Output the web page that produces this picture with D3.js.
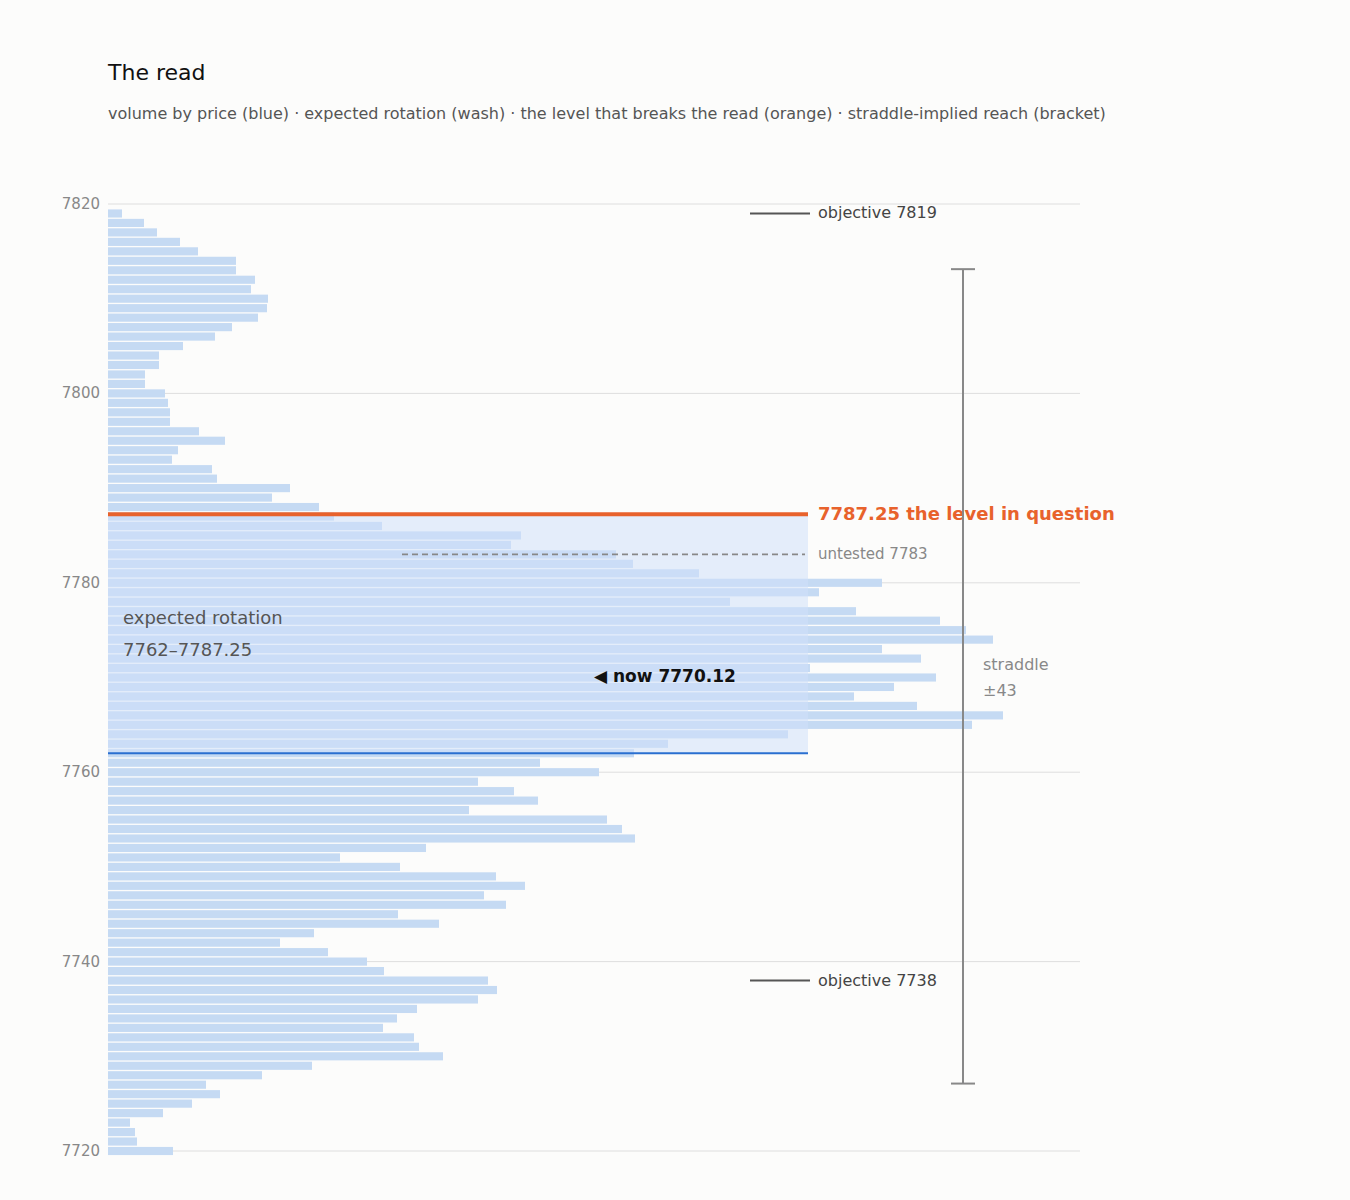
<!DOCTYPE html>
<html><head><meta charset="utf-8">
<script src="https://cdn.jsdelivr.net/npm/d3@7"></script>
<style>body{margin:0;background:#fcfcfb;font-family:"DejaVu Sans",sans-serif}</style>
</head><body><svg id="c" width="1350" height="1200"></svg>
<script>
const prices = d3.range(7819, 7719, -1);
const volumes = [14,36,49,72,90,128,128,147,143,160,159,150,124,107,75,51,51,37,37,57,
60,62,62,91,117,70,64,104,109,182,164,211,226,274,413,403,508,525,591,774,
711,622,748,832,858,885,774,813,702,828,786,746,809,895,864,680,560,526,432,491,
370,406,430,361,499,514,527,318,232,292,388,417,376,398,290,331,206,172,220,259,
276,380,389,370,309,289,275,306,311,335,204,154,98,112,84,55,22,27,29,65];
const yTicks = [7720,7740,7760,7780,7800,7820];
const breakLevel = 7787.25, rotLow = 7762, untested = 7783, nowPrice = 7770.12, straddle = 43;
const objectives = [7819, 7738];

const svg = d3.select("#c");
svg.append("rect").attr("width",1350).attr("height",1200).attr("fill","#fcfcfb");
const y = d3.scaleLinear().domain([7720,7820]).range([1151,204]);
const x = d3.scaleLinear().domain([0,972]).range([108,1080]);

svg.append("text").attr("x",108).attr("y",80).attr("font-size",22).attr("fill","#111").text("The read");
svg.append("text").attr("x",108).attr("y",119).attr("font-size",16).attr("fill","#555")
 .text("volume by price (blue) · expected rotation (wash) · the level that breaks the read (orange) · straddle-implied reach (bracket)");

const g = svg.append("g");
g.selectAll("line.grid").data(yTicks).join("line").attr("x1",108).attr("x2",1080)
 .attr("y1",d=>y(d)).attr("y2",d=>y(d)).attr("stroke","#dedede");
g.selectAll("text.tk").data(yTicks).join("text").attr("x",100).attr("y",d=>y(d)+5)
 .attr("text-anchor","end").attr("font-size",15).attr("fill","#888").text(d=>d);

const bh = (y(0)-y(1))*0.86;
g.selectAll("rect.bar").data(prices).join("rect").attr("x",108).attr("y",d=>y(d)-bh/2)
 .attr("height",bh).attr("width",(d,i)=>x(volumes[i])-108).attr("fill","#c5daf3");

svg.append("rect").attr("x",108).attr("y",y(breakLevel)).attr("width",700)
 .attr("height",y(rotLow)-y(breakLevel)).attr("fill","#cfe0fa").attr("opacity",0.55);

svg.append("line").attr("x1",108).attr("x2",808).attr("y1",y(rotLow)).attr("y2",y(rotLow)).attr("stroke","#2a6fd0").attr("stroke-width",2);
svg.append("line").attr("x1",108).attr("x2",808).attr("y1",y(breakLevel)).attr("y2",y(breakLevel)).attr("stroke","#e8622c").attr("stroke-width",4);
svg.append("text").attr("x",818).attr("y",y(breakLevel)+6).attr("font-size",18).attr("font-weight","bold").attr("fill","#e8622c").text(breakLevel+"  the level in question");
svg.append("line").attr("x1",402).attr("x2",805).attr("y1",y(untested)).attr("y2",y(untested)).attr("stroke","#888").attr("stroke-width",1.6).attr("stroke-dasharray","6,4");
svg.append("text").attr("x",818).attr("y",y(untested)+5).attr("font-size",15).attr("fill","#888").text("untested "+untested);

objectives.forEach(o=>{
 svg.append("line").attr("x1",750).attr("x2",810).attr("y1",y(o)).attr("y2",y(o)).attr("stroke","#555").attr("stroke-width",2);
 svg.append("text").attr("x",818).attr("y",y(o)+5).attr("font-size",16).attr("fill","#444").text("objective "+o);
});

svg.append("text").attr("x",123).attr("y",624).attr("font-size",18).attr("fill","#555").text("expected rotation");
svg.append("text").attr("x",123).attr("y",656).attr("font-size",18).attr("fill","#555").text(rotLow+"–"+breakLevel);
svg.append("text").attr("x",594).attr("y",y(nowPrice)+6).attr("font-size",17).attr("font-weight","bold").attr("fill","#111").text("◀ now "+nowPrice);

const bx=963, bTop=y(nowPrice+straddle), bBot=y(nowPrice-straddle);
svg.append("line").attr("x1",bx).attr("x2",bx).attr("y1",bTop).attr("y2",bBot).attr("stroke","#888").attr("stroke-width",2);
[bTop,bBot].forEach(v=>svg.append("line").attr("x1",bx-12).attr("x2",bx+12).attr("y1",v).attr("y2",v).attr("stroke","#888").attr("stroke-width",2));
svg.append("text").attr("x",983).attr("y",670).attr("font-size",16).attr("fill","#888").text("straddle");
svg.append("text").attr("x",983).attr("y",696).attr("font-size",16).attr("fill","#888").text("±"+straddle);
</script></body></html>
